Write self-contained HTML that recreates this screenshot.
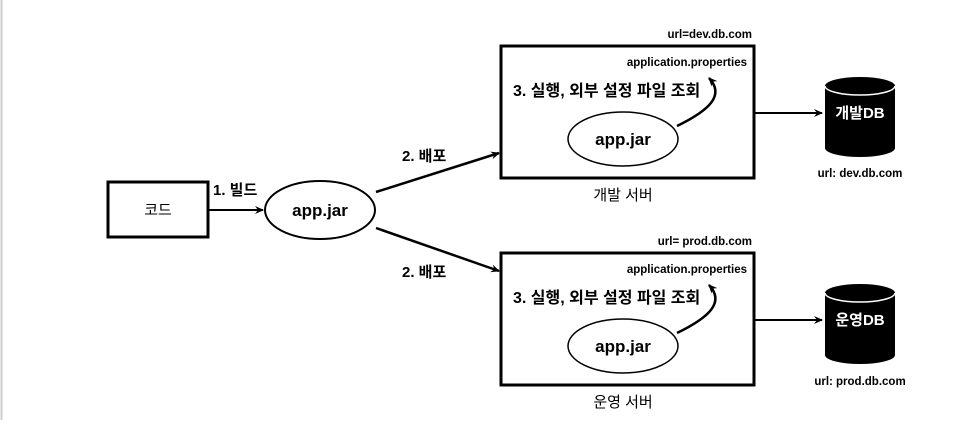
<!DOCTYPE html>
<html><head><meta charset="utf-8"><style>
html,body{margin:0;padding:0;background:#fff;}
svg text{font-family:"Liberation Sans","Noto Sans CJK KR",sans-serif;fill:#000;}
</style></head><body>
<svg width="980" height="420" viewBox="0 0 980 420" xmlns="http://www.w3.org/2000/svg">
<defs><marker id="a" markerWidth="10" markerHeight="10" refX="8" refY="5" orient="auto" markerUnits="userSpaceOnUse"><path d="M0,1 L9,5 L0,9 L3,5z" fill="#000"/></marker></defs>
<line x1="1.5" y1="0" x2="1.5" y2="420" stroke="#ccc" stroke-width="2"/>
<rect x="108" y="182" width="100" height="55" fill="#fff" stroke="#000" stroke-width="3"/>
<text x="158" y="215" font-size="15" text-anchor="middle">코드</text>
<line x1="208" y1="210" x2="263" y2="210" stroke="#000" stroke-width="2" marker-end="url(#a)"/>
<text x="213" y="195" font-size="15" font-weight="bold">1. 빌드</text>
<ellipse cx="320" cy="210" rx="55" ry="29" fill="#fff" stroke="#000" stroke-width="2"/>
<text x="320" y="216" font-size="17" font-weight="bold" text-anchor="middle">app.jar</text>
<line x1="376" y1="192" x2="499" y2="153" stroke="#000" stroke-width="2.5" marker-end="url(#a)"/>
<line x1="376" y1="228" x2="499" y2="271" stroke="#000" stroke-width="2.5" marker-end="url(#a)"/>
<text x="402" y="161" font-size="15" font-weight="bold">2. 배포</text>
<text x="402" y="277" font-size="15" font-weight="bold">2. 배포</text>
<g id="srv">
<rect x="501" y="46" width="253" height="132" fill="#fff" stroke="#000" stroke-width="3"/>
<text x="752" y="38" font-size="11.5" font-weight="bold" text-anchor="end">url=dev.db.com</text>
<text x="747" y="66" font-size="11.5" font-weight="bold" text-anchor="end">application.properties</text>
<text x="513" y="96" font-size="16" font-weight="bold">3. 실행, 외부 설정 파일 조회</text>
<ellipse cx="623" cy="139" rx="55" ry="27" fill="#fff" stroke="#000" stroke-width="1.5"/>
<text x="623" y="145" font-size="17" font-weight="bold" text-anchor="middle">app.jar</text>
<path d="M677,126 C710,110 725,95 709,78" fill="none" stroke="#000" stroke-width="2.5" marker-end="url(#a)"/>
<text x="623" y="200" font-size="15" text-anchor="middle">개발 서버</text>
<line x1="754" y1="113" x2="822" y2="113" stroke="#000" stroke-width="2" marker-end="url(#a)"/>
<path d="M825,86 L825,148 A35,9 0 0 0 895,148 L895,86 A35,9 0 0 0 825,86z" fill="#000"/>
<path d="M825,86 A35,9 0 0 0 895,86" fill="none" stroke="#fff" stroke-width="1.5"/>
<text x="860" y="118" font-size="15" fill="#fff" style="fill:#fff" text-anchor="middle" font-weight="bold">개발DB</text>
<text x="860" y="177" font-size="11.5" font-weight="bold" text-anchor="middle">url: dev.db.com</text>
</g>
<rect x="501" y="253" width="253" height="132" fill="#fff" stroke="#000" stroke-width="3"/>
<text x="752" y="245" font-size="11.5" font-weight="bold" text-anchor="end">url= prod.db.com</text>
<text x="747" y="273" font-size="11.5" font-weight="bold" text-anchor="end">application.properties</text>
<text x="513" y="303" font-size="16" font-weight="bold">3. 실행, 외부 설정 파일 조회</text>
<ellipse cx="623" cy="346" rx="55" ry="27" fill="#fff" stroke="#000" stroke-width="1.5"/>
<text x="623" y="352" font-size="17" font-weight="bold" text-anchor="middle">app.jar</text>
<path d="M677,333 C710,317 725,302 709,285" fill="none" stroke="#000" stroke-width="2.5" marker-end="url(#a)"/>
<text x="623" y="407" font-size="15" text-anchor="middle">운영 서버</text>
<line x1="754" y1="320" x2="822" y2="320" stroke="#000" stroke-width="2" marker-end="url(#a)"/>
<path d="M825,293 L825,355 A35,9 0 0 0 895,355 L895,293 A35,9 0 0 0 825,293z" fill="#000"/>
<path d="M825,293 A35,9 0 0 0 895,293" fill="none" stroke="#fff" stroke-width="1.5"/>
<text x="860" y="325" font-size="15" style="fill:#fff" text-anchor="middle" font-weight="bold">운영DB</text>
<text x="860" y="385" font-size="11.5" font-weight="bold" text-anchor="middle">url: prod.db.com</text>
</svg>
</body></html>
